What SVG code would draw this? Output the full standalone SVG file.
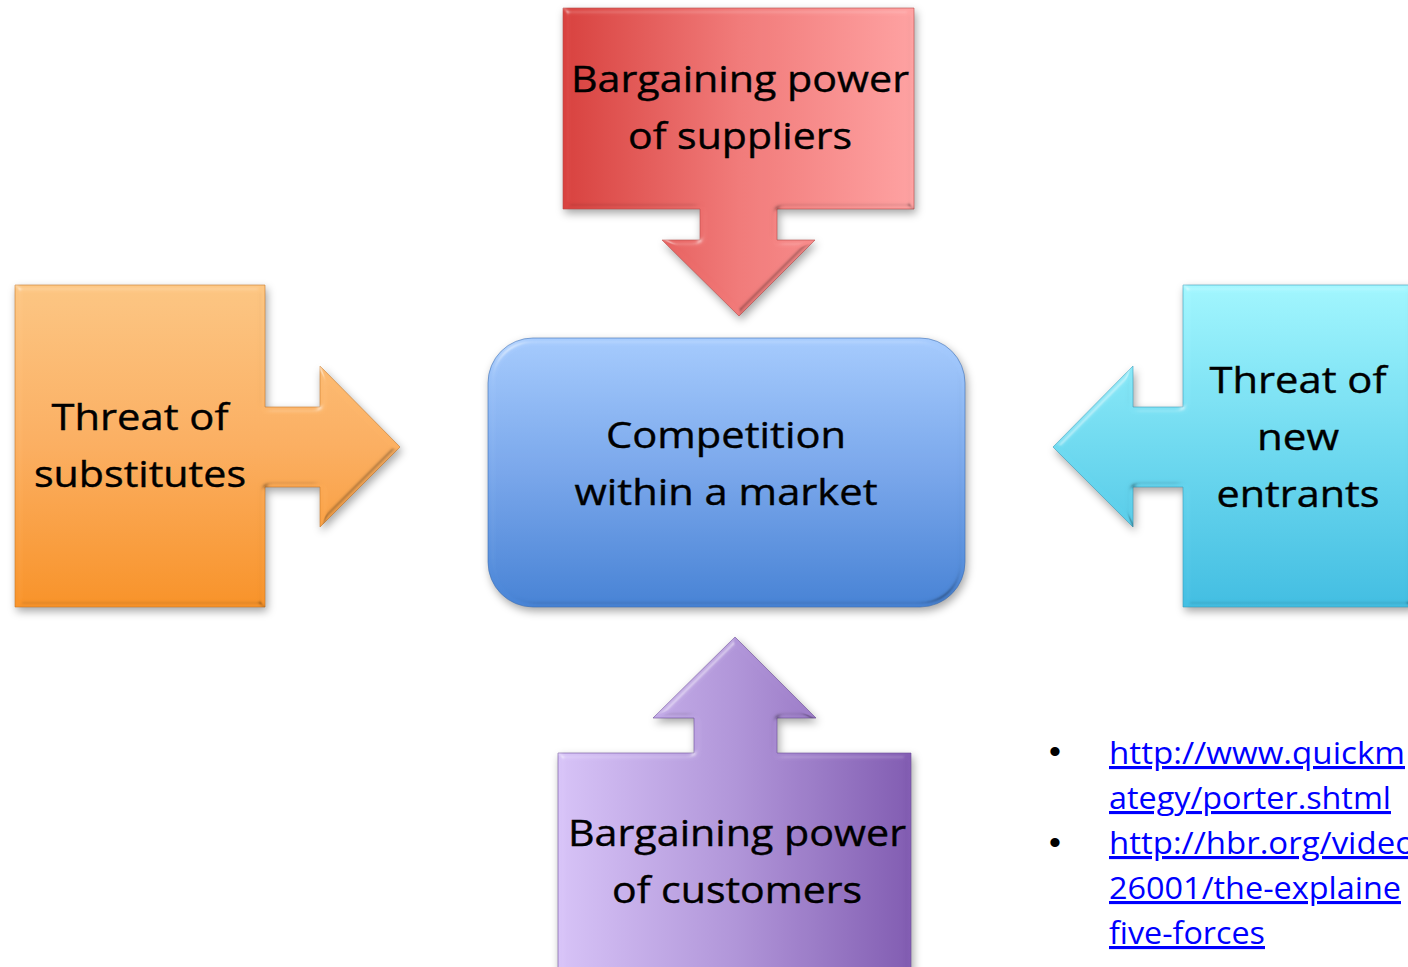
<svg xmlns="http://www.w3.org/2000/svg" width="1408" height="967" viewBox="0 0 1408 967">
  <defs>
    <style>
      .lbl { font-family: "Open Sans", Lato, "Liberation Sans", sans-serif; font-size: 37px; fill: #000; stroke: #000; stroke-width: 0.4px; text-anchor: middle; font-variant-ligatures: none; }
      .link { font-family: "Open Sans", Lato, "Liberation Sans", sans-serif; font-size: 31px; fill: #0000ff; text-decoration: underline; font-variant-ligatures: none; }
      .bullet { font-family: "Liberation Sans", sans-serif; font-size: 34px; fill: #000; text-anchor: middle; }
    </style>
    <!-- bevelled edges plus a soft drop shadow -->
    <filter id="bevel" x="-10%" y="-10%" width="125%" height="125%" color-interpolation-filters="sRGB">
      <feGaussianBlur in="SourceAlpha" stdDeviation="3" result="b"/>
      <feSpecularLighting in="b" surfaceScale="4" specularConstant="1" specularExponent="35" lighting-color="#fff" result="hi">
        <feDistantLight azimuth="235" elevation="35"/>
      </feSpecularLighting>
      <feColorMatrix in="hi" type="matrix" values="0 0 0 0 1  0 0 0 0 1  0 0 0 0 1  0 0 0 0.45 0" result="hiW"/>
      <feComposite in="hiW" in2="SourceAlpha" operator="in" result="hiIn"/>
      <feSpecularLighting in="b" surfaceScale="4" specularConstant="1" specularExponent="35" lighting-color="#fff" result="lo">
        <feDistantLight azimuth="55" elevation="35"/>
      </feSpecularLighting>
      <feColorMatrix in="lo" type="matrix" values="0 0 0 0 0  0 0 0 0 0  0 0 0 0 0  0 0 0 0.25 0" result="loK"/>
      <feComposite in="loK" in2="SourceAlpha" operator="in" result="loIn"/>
      <feGaussianBlur in="SourceAlpha" stdDeviation="4" result="sb"/>
      <feOffset in="sb" dx="2" dy="4" result="so"/>
      <feFlood flood-color="#000" flood-opacity="0.35"/>
      <feComposite in2="so" operator="in" result="shadow"/>
      <feMerge>
        <feMergeNode in="shadow"/>
        <feMergeNode in="SourceGraphic"/>
        <feMergeNode in="hiIn"/>
        <feMergeNode in="loIn"/>
      </feMerge>
    </filter>
    <linearGradient id="gRed" x1="0" y1="0" x2="1" y2="0">
      <stop offset="0" stop-color="#d9423f"/>
      <stop offset="0.5" stop-color="#f27b7a"/>
      <stop offset="1" stop-color="#ffa3a3"/>
    </linearGradient>
    <linearGradient id="gOrange" x1="0" y1="0" x2="0" y2="1">
      <stop offset="0" stop-color="#fdc784"/>
      <stop offset="0.5" stop-color="#fcb062"/>
      <stop offset="1" stop-color="#f9942a"/>
    </linearGradient>
    <linearGradient id="gCyan" x1="0" y1="0" x2="0" y2="1">
      <stop offset="0" stop-color="#a3f7ff"/>
      <stop offset="0.5" stop-color="#70dbf1"/>
      <stop offset="1" stop-color="#43bfe3"/>
    </linearGradient>
    <linearGradient id="gPurple" x1="0" y1="0" x2="1" y2="0">
      <stop offset="0" stop-color="#d8c4f8"/>
      <stop offset="0.5" stop-color="#b297da"/>
      <stop offset="1" stop-color="#835db3"/>
    </linearGradient>
    <linearGradient id="gBlue" x1="0" y1="0" x2="0" y2="1">
      <stop offset="0" stop-color="#a7ccfe"/>
      <stop offset="0.5" stop-color="#7aa8ec"/>
      <stop offset="1" stop-color="#4884d6"/>
    </linearGradient>
  </defs>

  <rect width="1408" height="967" fill="#fff"/>

  <!-- callout arrows are drawn as part of each force node; no separate connectors -->
  <g id="connectors"/>

  <g id="suppliers">
    <path d="M563,8 H914 V209 H777 V240 H815 L739,316 L662,240 H700 V209 H563 Z" fill="url(#gRed)" stroke="#b94a48" stroke-opacity="0.6" filter="url(#bevel)"/>
    <text class="lbl" x="740" y="92" textLength="338" lengthAdjust="spacingAndGlyphs">Bargaining power</text>
    <text class="lbl" x="740" y="149" textLength="224" lengthAdjust="spacingAndGlyphs">of suppliers</text>
  </g>

  <g id="substitutes">
    <path d="M15,285 H265 V407 H320 V366 L400,447 L320,527 V487 H265 V607 H15 Z" fill="url(#gOrange)" stroke="#c87a2a" stroke-opacity="0.6" filter="url(#bevel)"/>
    <text class="lbl" x="140" y="430" textLength="177" lengthAdjust="spacingAndGlyphs">Threat of</text>
    <text class="lbl" x="140" y="487" textLength="212" lengthAdjust="spacingAndGlyphs">substitutes</text>
  </g>

  <g id="new-entrants">
    <path d="M1183,285 H1413 V607 H1183 V487 H1133 V527 L1053,447 L1133,366 V407 H1183 Z" fill="url(#gCyan)" stroke="#3b9fbd" stroke-opacity="0.6" filter="url(#bevel)"/>
    <text class="lbl" x="1298" y="393" textLength="177" lengthAdjust="spacingAndGlyphs">Threat of</text>
    <text class="lbl" x="1298" y="450" textLength="82" lengthAdjust="spacingAndGlyphs">new</text>
    <text class="lbl" x="1298" y="507" textLength="163" lengthAdjust="spacingAndGlyphs">entrants</text>
  </g>

  <g id="customers">
    <path d="M558,753 H694 V718 H653 L735,637 L816,718 H777 V753 H911 V990 H558 Z" fill="url(#gPurple)" stroke="#6d4d99" stroke-opacity="0.6" filter="url(#bevel)"/>
    <text class="lbl" x="737" y="846" textLength="338" lengthAdjust="spacingAndGlyphs">Bargaining power</text>
    <text class="lbl" x="737" y="903" textLength="250" lengthAdjust="spacingAndGlyphs">of customers</text>
  </g>

  <g id="competition">
    <rect x="488" y="338" width="477" height="269" rx="45" ry="45" fill="url(#gBlue)" stroke="#3d6fb5" stroke-opacity="0.6" filter="url(#bevel)"/>
    <text class="lbl" x="726" y="448" textLength="240" lengthAdjust="spacingAndGlyphs">Competition</text>
    <text class="lbl" x="726" y="505" textLength="303" lengthAdjust="spacingAndGlyphs">within a market</text>
  </g>

  <g id="references">
    <text class="bullet" x="1055" y="763">•</text>
    <text class="bullet" x="1055" y="854">•</text>
    <text class="link" x="1109" y="764" textLength="296" lengthAdjust="spacingAndGlyphs">http://www.quickm</text>
    <text class="link" x="1109" y="809" textLength="282" lengthAdjust="spacingAndGlyphs">ategy/porter.shtml</text>
    <text class="link" x="1109" y="854" textLength="306" lengthAdjust="spacingAndGlyphs">http://hbr.org/video</text>
    <text class="link" x="1109" y="899" textLength="292" lengthAdjust="spacingAndGlyphs">26001/the-explaine</text>
    <text class="link" x="1109" y="944" textLength="156" lengthAdjust="spacingAndGlyphs">five-forces</text>
  </g>
</svg>
